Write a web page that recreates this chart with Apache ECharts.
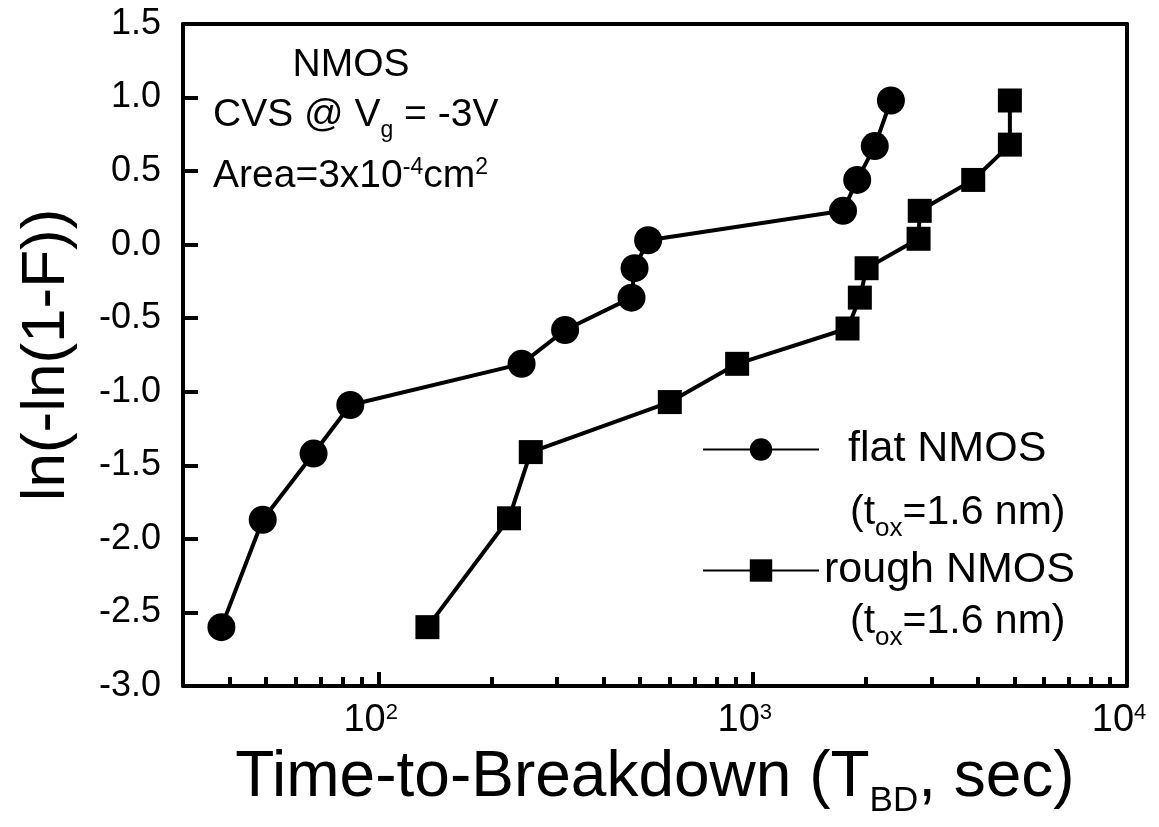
<!DOCTYPE html>
<html>
<head>
<meta charset="utf-8">
<script src="https://cdn.jsdelivr.net/npm/echarts@6/dist/echarts.min.js"></script>
<style>
html, body { margin: 0; padding: 0; background: #fff; }
#chart { width: 1159px; height: 827px; }
</style>
</head>
<body>
<div id="chart"></div>
<script>
// time to breakdown (s) and ln(-ln(1-F))
var flatTime = [38, 49, 67, 84, 241, 315, 474, 483, 525, 1742, 1901, 2118, 2339];
var flatLn = [-2.6, -1.87, -1.42, -1.09, -0.81, -0.58, -0.36, -0.16, 0.03, 0.23, 0.44, 0.67, 0.98];
var roughTime = [135, 223, 255, 600, 908, 1791, 1932, 2014, 2773, 2793, 3882, 4864, 4864];
var roughLn = [-2.6, -1.86, -1.41, -1.07, -0.81, -0.57, -0.36, -0.16, 0.04, 0.23, 0.44, 0.68, 0.98];
var majorTicks = [100, 1000, 10000];
var minorTicks = [40, 50, 60, 70, 80, 90, 200, 300, 400, 500, 600, 700, 800, 900,
  2000, 3000, 4000, 5000, 6000, 7000, 8000, 9000];

var FONT = 'Liberation Sans';

function pairs(xs, ys) {
  var out = [];
  for (var i = 0; i < xs.length; i++) out.push([xs[i], ys[i]]);
  return out;
}

// plain frame axis (top / right edges of the box)
function frameAxis(type, pos, min, max) {
  return {
    type: type, position: pos, min: min, max: max,
    axisLine: { show: true, onZero: false, lineStyle: { color: '#000', width: 4 } },
    axisTick: { show: false }, axisLabel: { show: false }, splitLine: { show: false }
  };
}

var chart = echarts.init(document.getElementById('chart'));

var option = {
  animation: false,
  backgroundColor: '#fff',
  textStyle: { fontFamily: FONT, color: '#000' },
  grid: { left: 183, right: 32, top: 24, bottom: 141, outerBoundsMode: 'none' },
  legend: {
    orient: 'vertical',
    left: 697, top: 423,
    itemWidth: 116, itemHeight: 28,
    itemGap: 78,
    selectedMode: false,
    data: ['flat NMOS', 'rough NMOS'],
    formatter: function (name) {
      return name === 'flat NMOS' ? '{pad|' + name + '}' : name;
    },
    textStyle: {
      fontFamily: FONT, fontSize: 43, color: '#000',
      rich: { pad: { fontFamily: FONT, fontSize: 43, padding: [0, 0, 0, 24] } }
    }
  },
  xAxis: [
    {
      type: 'log', logBase: 10, min: 30, max: 10000, position: 'bottom',
      name: 'Time-to-Breakdown (T{sub|BD}, sec)',
      nameLocation: 'middle', nameGap: 51,
      nameTextStyle: {
        fontFamily: FONT, fontSize: 64, color: '#000',
        rich: { sub: { fontFamily: FONT, fontSize: 35, padding: [47, 0, 0, 0], verticalAlign: 'bottom' } }
      },
      axisLine: { show: true, onZero: false, lineStyle: { color: '#000', width: 4 } },
      axisTick: { show: true, inside: true, length: 14, customValues: majorTicks, lineStyle: { color: '#000', width: 4 } },
      axisLabel: {
        show: true, customValues: majorTicks, margin: 16, color: '#000',
        fontFamily: FONT, fontSize: 38, padding: [0, 16, 0, 0],
        formatter: function (v) { return '10{sup|' + Math.round(Math.log10(v)) + '}'; },
        rich: { sup: { fontFamily: FONT, fontSize: 22, verticalAlign: 'top', padding: [0, 0, 16, 0] } }
      },
      splitLine: { show: false }
    },
    {
      type: 'log', logBase: 10, min: 30, max: 10000, position: 'bottom',
      axisLine: { show: false, onZero: false },
      axisTick: { show: true, inside: true, length: 9, customValues: minorTicks, lineStyle: { color: '#000', width: 4 } },
      axisLabel: { show: false },
      splitLine: { show: false }
    },
    frameAxis('log', 'top', 30, 10000)
  ],
  yAxis: [
    {
      type: 'value', min: -3, max: 1.5, interval: 0.5, position: 'left',
      name: 'ln(-ln(1-F))',
      nameLocation: 'middle', nameGap: 105, nameRotate: 90,
      nameTextStyle: { fontFamily: FONT, fontSize: 62, color: '#000' },
      axisLine: { show: true, onZero: false, lineStyle: { color: '#000', width: 4 } },
      axisTick: { show: true, inside: true, length: 15, lineStyle: { color: '#000', width: 4 } },
      axisLabel: {
        margin: 22, color: '#000', fontFamily: FONT, fontSize: 36,
        formatter: function (v) { return v.toFixed(1); }
      },
      splitLine: { show: false }
    },
    frameAxis('value', 'right', -3, 1.5)
  ],
  graphic: [
    { type: 'text', x: 351, y: 65, style: { text: 'NMOS', font: '39px "Liberation Sans"', fill: '#000', align: 'center', verticalAlign: 'middle' } },
    { type: 'text', x: 213, y: 115, style: {
      text: 'CVS @ V{sub|g} = -3V', font: '39px "Liberation Sans"', fill: '#000', align: 'left', verticalAlign: 'middle',
      rich: { sub: { font: '23px "Liberation Sans"', padding: [32, 0, 0, 0], verticalAlign: 'bottom' } }
    } },
    { type: 'text', x: 213, y: 176, style: {
      text: 'Area=3x10{sup|-4}cm{sup|2}', font: '39px "Liberation Sans"', fill: '#000', align: 'left', verticalAlign: 'middle',
      rich: { sup: { font: '23px "Liberation Sans"', padding: [0, 0, 16, 0], verticalAlign: 'top' } }
    } },
    { type: 'text', x: 850, y: 513, style: {
      text: '(t{sub|ox}=1.6 nm)', font: '41px "Liberation Sans"', fill: '#000', align: 'left', verticalAlign: 'middle',
      rich: { sub: { font: '26px "Liberation Sans"', padding: [32, 0, 0, 0], verticalAlign: 'bottom' } }
    } },
    { type: 'text', x: 850, y: 622, style: {
      text: '(t{sub|ox}=1.6 nm)', font: '41px "Liberation Sans"', fill: '#000', align: 'left', verticalAlign: 'middle',
      rich: { sub: { font: '26px "Liberation Sans"', padding: [32, 0, 0, 0], verticalAlign: 'bottom' } }
    } }
  ],
  series: [
    {
      name: 'flat NMOS', type: 'line',
      data: pairs(flatTime, flatLn),
      symbol: 'circle', symbolSize: 28,
      lineStyle: { color: '#000', width: 4 },
      itemStyle: { color: '#000' }
    },
    {
      name: 'rough NMOS', type: 'line',
      data: pairs(roughTime, roughLn),
      symbol: 'rect', symbolSize: 24,
      lineStyle: { color: '#000', width: 4 },
      itemStyle: { color: '#000' }
    }
  ]
};

chart.setOption(option);
</script>
</body>
</html>
